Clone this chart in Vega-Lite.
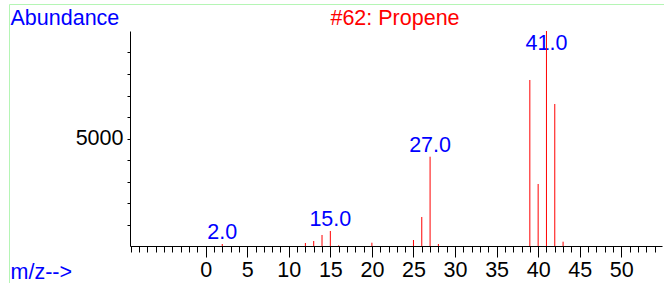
{
  "$schema": "https://vega.github.io/schema/vega-lite/v6.json",
  "width": 532,
  "height": 215,
  "autosize": {"type": "none"},
  "padding": {"left": 130, "top": 31, "right": 2, "bottom": 37},
  "background": "white",
  "config": {"view": {"stroke": null}, "font": "Liberation Sans"},
  "datasets": {
    "peaks": [
      {"mz": 2, "abundance": 93},
      {"mz": 12, "abundance": 140},
      {"mz": 13, "abundance": 233},
      {"mz": 14, "abundance": 512},
      {"mz": 15, "abundance": 698},
      {"mz": 16, "abundance": 30},
      {"mz": 20, "abundance": 153},
      {"mz": 25, "abundance": 279},
      {"mz": 26, "abundance": 1349},
      {"mz": 27, "abundance": 4153},
      {"mz": 28, "abundance": 93},
      {"mz": 39, "abundance": 7721},
      {"mz": 40, "abundance": 2884},
      {"mz": 41, "abundance": 10000},
      {"mz": 42, "abundance": 6605},
      {"mz": 43, "abundance": 200}
    ],
    "labels": [
      {"mz": 2, "label": "2.0", "at": 93},
      {"mz": 15, "label": "15.0", "at": 698},
      {"mz": 27, "label": "27.0", "at": 4153},
      {"mz": 41, "label": "41.0", "at": 8900}
    ]
  },
  "layer": [
    {
      "data": {"name": "labels"},
      "mark": {"type": "text", "color": "#0000ff", "fontSize": 21.5, "baseline": "alphabetic", "align": "center", "dy": -5},
      "encoding": {
        "x": {
          "field": "mz",
          "type": "quantitative",
          "title": "m/z-->",
          "scale": {"domain": [-9.1, 54.9], "nice": false, "zero": false},
          "axis": {
            "values": [-9,-8,-7,-6,-5,-4,-3,-2,-1,0,1,2,3,4,5,6,7,8,9,10,11,12,13,14,15,16,17,18,19,20,21,22,23,24,25,26,27,28,29,30,31,32,33,34,35,36,37,38,39,40,41,42,43,44,45,46,47,48,49,50,51,52,53,54],
            "tickCount": 200,
            "format": "d",
            "labelExpr": "datum.value >= 0 && datum.value % 5 === 0 ? datum.label : ''",
            "labelOverlap": false,
            "labelFlush": false,
            "labelFontSize": 21.5,
            "labelColor": "black",
            "labelPadding": 2,
            "tickSize": {"condition": {"test": "datum.value >= 0 && datum.value % 5 === 0", "value": 11}, "value": 6},
            "tickColor": "black",
            "domainColor": "black",
            "grid": false,
            "titleColor": "#0000ff",
            "titleFontSize": 21.5,
            "titleFontWeight": "normal",
            "titleAlign": "left",
            "titleBaseline": "alphabetic",
            "titleX": -120,
            "titleY": 32
          }
        },
        "y": {
          "field": "at",
          "type": "quantitative",
          "title": "Abundance",
          "scale": {"domain": [0, 10000], "nice": false},
          "axis": {
            "values": [1000,2000,3000,4000,5000,6000,7000,8000,9000],
            "tickCount": 200,
            "format": "d",
            "labelExpr": "datum.value === 5000 ? '5000' : ''",
            "labelOverlap": false,
            "labelFontSize": 21.5,
            "labelColor": "black",
            "labelPadding": 4,
            "tickSize": 3,
            "tickColor": "black",
            "domainColor": "black",
            "grid": false,
            "titleColor": "#0000ff",
            "titleFontSize": 21.5,
            "titleFontWeight": "normal",
            "titleAngle": 0,
            "titleAlign": "left",
            "titleBaseline": "alphabetic",
            "titleX": -120,
            "titleY": -7
          }
        },
        "text": {"field": "label"}
      }
    },
    {
      "data": {"name": "peaks"},
      "mark": {"type": "rule", "color": "#ff0000", "strokeWidth": 1},
      "encoding": {
        "x": {"field": "mz", "type": "quantitative", "title": "m/z-->"},
        "y": {"field": "abundance", "type": "quantitative", "title": "Abundance"},
        "y2": {"datum": 0}
      }
    },
    {
      "data": {"values": [{}]},
      "mark": {"type": "text", "text": "#62: Propene", "color": "#ff0000", "fontSize": 21.5, "baseline": "alphabetic", "align": "center"},
      "encoding": {
        "x": {"datum": 22.78, "type": "quantitative", "title": "m/z-->"},
        "y": {"datum": 10280, "type": "quantitative", "title": "Abundance"}
      }
    },
    {
      "data": {"values": [{}]},
      "mark": {"type": "rect", "filled": false, "stroke": "#b5f5b5", "strokeWidth": 1},
      "encoding": {
        "x": {"datum": -23.596, "type": "quantitative", "title": "m/z-->"},
        "x2": {"datum": 100},
        "y": {"datum": 11232, "type": "quantitative", "title": "Abundance"},
        "y2": {"datum": -8000}
      }
    }
  ]
}
